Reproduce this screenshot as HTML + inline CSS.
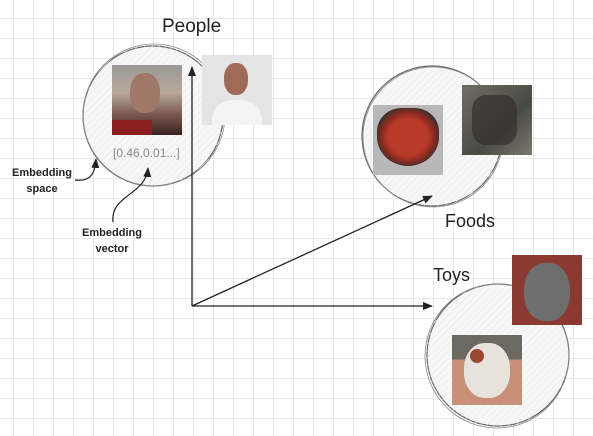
<!DOCTYPE html>
<html><head><style>
body{margin:0;width:593px;height:436px;overflow:hidden;background:#fff;
background-image:linear-gradient(#e8e8e8 1px,transparent 1px),linear-gradient(90deg,#e8e8e8 1px,transparent 1px);background-size:20px 20px;background-position:-7px -2px;font-family:"Liberation Sans",sans-serif}
.img{position:absolute;width:70px;height:70px}
</style></head><body>
<svg width="593" height="436" style="position:absolute;left:0;top:0">
<defs>
<pattern id="h" width="5" height="5" patternUnits="userSpaceOnUse" patternTransform="rotate(45)"><line x1="0" y1="0" x2="0" y2="5" stroke="#e6e6e6" stroke-width="1"/></pattern>
<marker id="a" markerWidth="10" markerHeight="10" refX="9" refY="5" orient="auto" markerUnits="userSpaceOnUse"><path d="M0,1 L10,5 L0,9 z" fill="#222"/></marker>
</defs>
<circle cx="153" cy="116" r="70" fill="#f7f7f7" stroke="#666" stroke-width="1.2"/>
<circle cx="154" cy="115" r="71" fill="url(#h)" stroke="#888" stroke-width="0.8"/>
<circle cx="432" cy="136" r="70" fill="#f7f7f7" stroke="#666" stroke-width="1.2"/>
<circle cx="433" cy="137" r="70" fill="url(#h)" stroke="#888" stroke-width="0.8"/>
<circle cx="498" cy="355" r="71" fill="#f7f7f7" stroke="#666" stroke-width="1.2"/>
<circle cx="497" cy="356" r="72" fill="url(#h)" stroke="#888" stroke-width="0.8"/>
<line x1="192" y1="306" x2="192" y2="67" stroke="#222" stroke-width="1.3" marker-end="url(#a)"/>
<line x1="192" y1="306" x2="432" y2="306" stroke="#222" stroke-width="1.3" marker-end="url(#a)"/>
<line x1="192" y1="306" x2="432" y2="196" stroke="#222" stroke-width="1.3" marker-end="url(#a)"/>
<path d="M75,180 C92,182 95,172 96,159" fill="none" stroke="#222" stroke-width="1.2" marker-end="url(#a)"/>
<path d="M113,222 C110,195 146,195 148,168" fill="none" stroke="#222" stroke-width="1.2" marker-end="url(#a)"/>
<text x="162" y="32" font-size="19" fill="#222">People</text>
<text x="113" y="157" font-size="12" fill="#888">[0.46,0.01...]</text>
<text x="445" y="227" font-size="18" fill="#222">Foods</text>
<text x="433" y="281" font-size="18" fill="#222">Toys</text>
<text x="42" y="176" font-size="11" font-weight="bold" fill="#222" text-anchor="middle">Embedding</text>
<text x="42" y="192" font-size="11" font-weight="bold" fill="#222" text-anchor="middle">space</text>
<text x="112" y="236" font-size="11" font-weight="bold" fill="#222" text-anchor="middle">Embedding</text>
<text x="112" y="252" font-size="11" font-weight="bold" fill="#222" text-anchor="middle">vector</text>
</svg>
<div class="img" style="left:112px;top:65px;background:linear-gradient(180deg,#9a9a9a 0%,#b8a89a 40%,#7a5a50 70%,#3a2020 100%)"><div style="position:absolute;left:18px;top:8px;width:30px;height:40px;border-radius:45%;background:#a07868"></div><div style="position:absolute;left:0;top:55px;width:40px;height:15px;background:#8a2020"></div></div>
<div class="img" style="left:202px;top:55px;background:#e4e4e4"><div style="position:absolute;left:22px;top:8px;width:24px;height:32px;border-radius:45%;background:#a06a58"></div><div style="position:absolute;left:10px;top:45px;width:50px;height:25px;background:#f4f4f4;border-radius:20px 20px 0 0"></div></div>
<div class="img" style="left:373px;top:105px;background:#b8b8b8"><div style="position:absolute;left:4px;top:3px;width:62px;height:58px;border-radius:40% 40% 50% 50%;background:radial-gradient(#b83a28 45%,#8a2a20 60%,#3a3030 75%)"></div></div>
<div class="img" style="left:462px;top:85px;background:linear-gradient(135deg,#6e6e66,#4a4a44 60%,#7a7a70)"><div style="position:absolute;left:10px;top:10px;width:45px;height:50px;background:#2e2a26;opacity:.6;border-radius:30%"></div></div>
<div class="img" style="left:512px;top:255px;background:#8a3a30"><div style="position:absolute;left:12px;top:8px;width:46px;height:58px;border-radius:45%;background:#6e6e6e"></div></div>
<div class="img" style="left:452px;top:335px;background:linear-gradient(180deg,#6a6a60 0%,#6a6a60 35%,#c89078 35%,#c89078 100%)"><div style="position:absolute;left:12px;top:8px;width:46px;height:55px;border-radius:45%;background:#e8e2dc"></div><div style="position:absolute;left:18px;top:14px;width:14px;height:14px;border-radius:50%;background:#9a4a30"></div></div>
</body></html>
